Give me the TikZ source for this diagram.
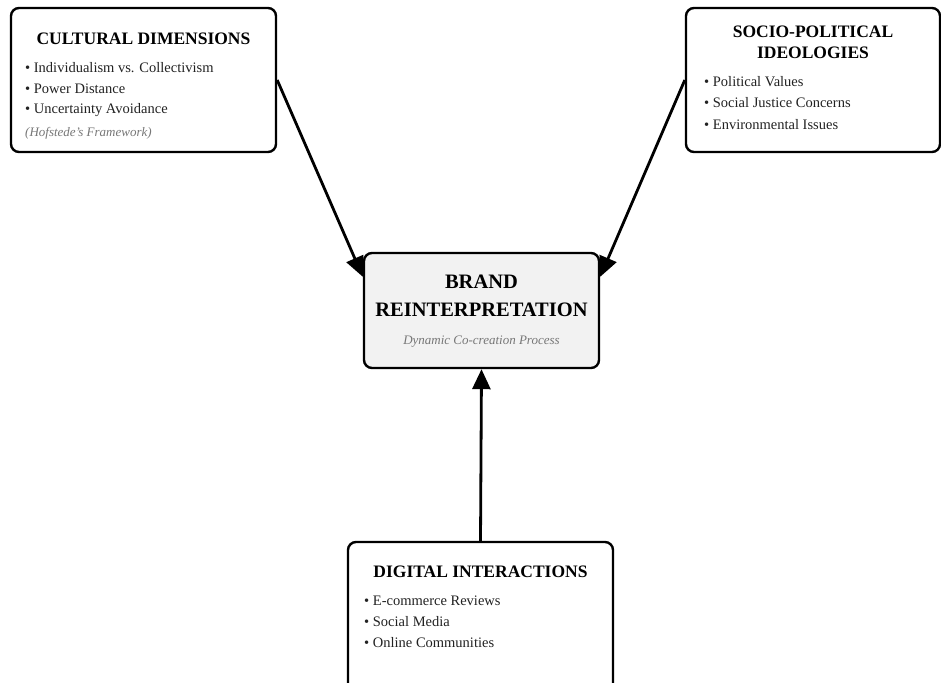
\documentclass[tikz,border=0pt]{standalone}
\usepackage{fontspec}
\setmainfont{Liberation Serif}
\usetikzlibrary{arrows.meta,calc}
\definecolor{txt}{HTML}{222222}
\definecolor{itl}{HTML}{777777}
\definecolor{cfill}{HTML}{F2F2F2}
\tikzset{
  box/.style={draw=black, line width=2.4pt, rounded corners=8pt, fill=white, inner sep=0pt},
  ttl/.style={font=\fontsize{17.5}{21}\selectfont\bfseries, text=black, align=center},
  itm/.style={font=\fontsize{14.5}{17}\selectfont, text=txt, anchor=west, inner sep=0pt},
  note/.style={font=\fontsize{13}{15}\selectfont\itshape, text=itl, inner sep=0pt},
  conn/.style={line width=2.8pt, -{Triangle[length=20pt,width=18pt]}}
}
\begin{document}
\begin{tikzpicture}[x=1pt,y=-1pt]
\useasboundingbox (0,0) rectangle (941,682);
% boxes
\node[box, minimum width=265pt, minimum height=144pt] (cult) at (143.5,80) {};
\node[box, minimum width=254pt, minimum height=144pt] (socio) at (813,80) {};
\node[box, fill=cfill, minimum width=235pt, minimum height=115pt] (center) at (481.5,310.5) {};
\node[box, minimum width=265pt, minimum height=160pt] (dig) at (480.5,622) {};
% cultural
\node[ttl] (cultT) at (143.5,39) {CULTURAL DIMENSIONS};
\node[itm] (c1) at (25,68) {• Individualism vs. Collectivism};
\node[itm] (c2) at (25,89) {• Power Distance};
\node[itm] (c3) at (25,110) {• Uncertainty Avoidance};
\node[note, anchor=west] (c4) at (25,133) {(Hofstede's Framework)};
% socio
\node[ttl] (socT) at (813,42) {SOCIO-POLITICAL\\IDEOLOGIES};
\node[itm] (s1) at (704,82) {• Political Values};
\node[itm] (s2) at (704,103) {• Social Justice Concerns};
\node[itm] (s3) at (704,125) {• Environmental Issues};
% center
\node[font=\fontsize{20.5}{28}\selectfont\bfseries, text=black, align=center] (cenT) at (481.5,296) {BRAND\\REINTERPRETATION};
\node[note] (cenN) at (481.5,342) {Dynamic Co-creation Process};
% digital
\node[ttl] (digT) at (480.5,572) {DIGITAL INTERACTIONS};
\node[itm] (d1) at (364,601) {• E-commerce Reviews};
\node[itm] (d2) at (364,622) {• Social Media};
\node[itm] (d3) at (364,643) {• Online Communities};
% connectors
\coordinate (cin1) at ($(center.north west)+(0,25)$);
\coordinate (cin2) at ($(center.north east)+(0,25)$);
\draw[conn] (cult.east) -- (cin1);
\draw[conn] (socio.west) -- (cin2);
\draw[conn] (dig.north) -- (center.south);
\end{tikzpicture}
\end{document}
